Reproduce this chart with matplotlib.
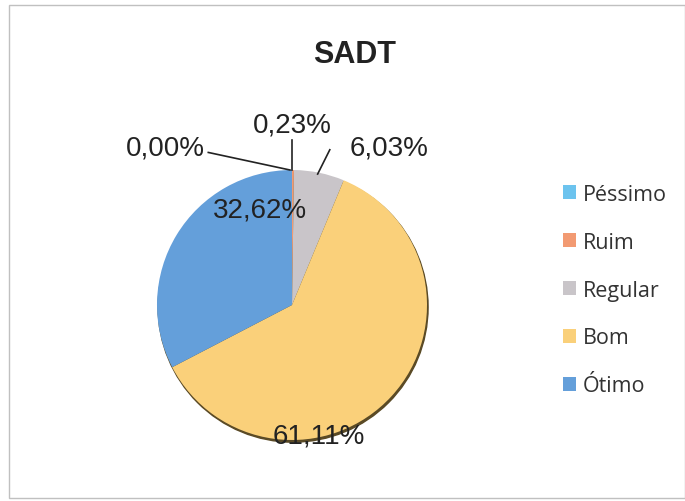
import numpy as np
import matplotlib
matplotlib.use('Agg')
import matplotlib.pyplot as plt
from matplotlib.patches import Rectangle, Circle, Patch

# ----- data -----
categorias = ['Péssimo', 'Ruim', 'Regular', 'Bom', 'Ótimo']
valores = [0.00, 0.23, 6.03, 61.11, 32.62]
rotulos = ['0,00%', '0,23%', '6,03%', '61,11%', '32,62%']
cores = ['#6cc3ee', '#f29a72', '#c9c5c9', '#fad07a', '#649fda']

# label positions (data units, pie radius = 1)
pos_rot = [(-0.94, 1.17), (0.0, 1.34), (0.72, 1.17), (0.2, -0.97), (-0.24, 0.71)]
linhas = [[(-0.62, 1.13), (-0.015, 1.0)],
          [(0.0, 1.22), (0.0, 1.0)],
          [(0.28, 1.15), (0.19, 0.97)],
          None, None]

W, H = 685, 502
fig = plt.figure(figsize=(W / 100, H / 100), dpi=100)

# chart border
fig.patches.append(Rectangle((9 / W, 3 / H), 676 / W, 493 / H, transform=fig.transFigure,
                             fill=False, edgecolor='#c0c0c0', linewidth=1.0))

cx, cy, r = 292, 306, 135
ax = fig.add_axes([(cx - r) / W, (H - cy - r) / H, 2 * r / W, 2 * r / H])

# thin shadow under the pie
ax.add_patch(Circle((0.008, -0.016), 1.0, color='#5a4a25', zorder=0, clip_on=False))
ax.pie(valores, colors=cores, startangle=90, counterclock=False, radius=1.0,
       wedgeprops=dict(linewidth=0))
ax.set_xlim(-1, 1)
ax.set_ylim(-1, 1)
ax.axis('off')

for txt, (x, y), ln in zip(rotulos, pos_rot, linhas):
    ax.text(x, y, txt, ha='center', va='center', fontsize=20, color='#222222',
            family='Liberation Sans', clip_on=False, zorder=5)
    if ln is not None:
        ax.plot([ln[0][0], ln[1][0]], [ln[0][1], ln[1][1]], color='#222222',
                linewidth=1.2, clip_on=False)

fig.text(355 / W, 1 - 55 / H, 'SADT', ha='center', va='center', fontsize=22,
         fontweight='bold', family='Liberation Sans', color='#222222')

handles = [Patch(facecolor=c, edgecolor='none') for c in cores]
fig.legend(handles, categorias, loc='center left', bbox_to_anchor=(544 / W, 1 - 291 / H),
           frameon=False, prop={'family': 'Open Sans', 'size': 15.5},
           handlelength=0.6, handleheight=0.6, handletextpad=0.3, labelspacing=1.25,
           labelcolor='#333333')

fig.savefig('out.png', dpi=100)
